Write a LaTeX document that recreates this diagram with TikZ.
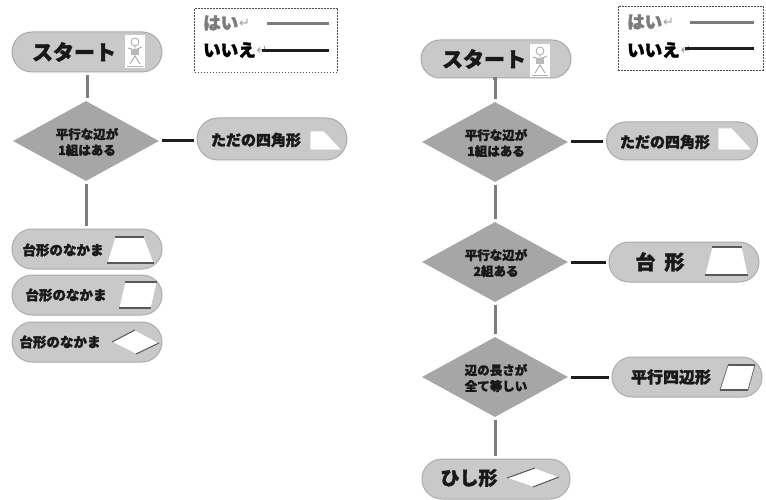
\documentclass[tikz,border=0pt]{standalone}
\usepackage{fontspec}
\setmainfont{Noto Sans CJK JP}[BoldFeatures={FakeBold=2}]
\newfontfamily\symfont{DejaVu Sans}
\usetikzlibrary{shapes.geometric,shapes.misc}
\definecolor{pillfill}{HTML}{C9C9C9}
\definecolor{pilledge}{HTML}{ABABAB}
\definecolor{dfill}{HTML}{A6A6A6}
\definecolor{yesgray}{HTML}{7C7C7C}
\definecolor{nodark}{HTML}{1E1E1E}
\tikzset{
  pill/.style={rounded rectangle, fill=pillfill, draw=pilledge, line width=1pt,
    minimum width=150pt, minimum height=40pt, inner sep=0pt},
  decision/.style={diamond, fill=dfill, inner sep=0pt, aspect=1.8,
    minimum width=146pt, minimum height=80pt},
  yesline/.style={draw=yesgray, line width=3pt, shorten <=3pt, shorten >=3pt},
  noline/.style={draw=nodark, line width=3pt, shorten <=3pt, shorten >=3pt},
  lbl/.style={text=black!90, inner sep=0pt, align=center},
  big/.style={lbl, font=\bfseries\fontsize{21}{23}\selectfont},
  mid/.style={lbl, font=\bfseries\fontsize{15}{17}\selectfont},
  small/.style={lbl, font=\bfseries\fontsize{12.5}{16}\selectfont},
  icon/.style={fill=white, draw=gray!45, line width=0.6pt},
  iconedge/.style={draw=black!65, line width=1.3pt},
  legendbox/.style={draw=black!70, dash pattern=on 1.6pt off 1.4pt, line width=0.9pt, inner sep=0pt},
  legyes/.style={lbl, text=yesgray, font=\bfseries\fontsize{17.5}{19}\selectfont},
  legno/.style={lbl, text=black, font=\bfseries\fontsize{17.5}{19}\selectfont},
  ret/.style={inner sep=0.5pt, text=gray!75, font=\symfont\fontsize{13}{13}\selectfont},
}
% little mascot drawn inside the start box
\newcommand{\mascot}[2]{%
  \fill[white] (#1-10,#2-16) rectangle (#1+10,#2+17);
  \draw[gray!70, line width=0.8pt] (#1,#2-9) circle (4);
  \draw[gray!70, line width=0.9pt] (#1,#2-5) -- (#1,#2+5)
    (#1-7,#2-3) -- (#1,#2-1) -- (#1+7,#2-4)
    (#1,#2+5) -- (#1-5,#2+13) (#1,#2+5) -- (#1+5,#2+13);
  \fill[gray!55] (#1-4,#2-2) rectangle (#1+4,#2+4);
  \draw[gray!60, line width=0.7pt] (#1-8,#2+15) -- (#1+8,#2+15);
}
\begin{document}
\begin{tikzpicture}[x=1pt,y=-1pt]
\useasboundingbox (0,0) rectangle (766,500);
\fill[white] (0,0) rectangle (766,500);

% ---------------- left chart ----------------
\node[legendbox, minimum width=143pt, minimum height=64pt] (Lleg) at (266,40) {};
\node[legyes, anchor=west] (Lyes) at (203,23) {はい};
\node[ret, anchor=west] (Lyesr) at (Lyes.east) {↵};
\coordinate (LyesA) at (267,24);
\coordinate (LyesB) at (329,24);
\draw[draw=yesgray, line width=3pt] (LyesA) -- (LyesB);
\node[legno, anchor=west] (Lno) at (203,50) {いいえ};
\node[ret, anchor=west] (Lnor) at (Lno.east) {↵};
\coordinate (LnoA) at (262,51);
\coordinate (LnoB) at (329,51);
\draw[draw=nodark, line width=3pt] (LnoA) -- (LnoB);

\node[pill] (Ls) at (87,52) {};
\node[big] (Lst) at (74,52) {スタート};
\mascot{135}{51}

\node[decision] (Ld1) at (86,141) {};
\node[small] at (87,142) {平行な辺が\\1組はある};

\node[pill, minimum height=42pt] (Lq) at (272,139) {};
\node[mid] at (256,140) {ただの四角形};
\filldraw[icon] (310,131) -- (324,131) -- (342,150) -- (310,150) -- cycle;

\node[pill] (Lt1) at (87,249) {};
\node[pill] (Lt2) at (87,295) {};
\node[pill] (Lt3) at (87,342) {};
\node[mid, font=\bfseries\fontsize{13.5}{15}\selectfont] at (63,250) {台形のなかま};
\node[mid, font=\bfseries\fontsize{13.5}{15}\selectfont] at (66,295) {台形のなかま};
\node[mid, font=\bfseries\fontsize{13.5}{15}\selectfont] at (60,342) {台形のなかま};
% trapezoid
\filldraw[icon] (107,263) -- (115,237) -- (144,237) -- (154,263) -- cycle;
\draw[iconedge] (115,237) -- (144,237) (107,263) -- (154,263);
% parallelogram
\filldraw[icon] (119,308) -- (125,282) -- (157,282) -- (151,308) -- cycle;
\draw[iconedge] (125,282) -- (157,282) (119,308) -- (151,308);
% rhombus
\filldraw[icon] (112,342) -- (135,330) -- (159,343) -- (136,354) -- cycle;
\draw[iconedge, line width=1pt] (135,330) -- (112,342) (159,343) -- (136,354);

\draw[yesline] (Ls.south) -- (Ls.south |- Ld1.north);
\draw[noline] (Ld1.east) -- (Ld1.east -| Lq.west);
\draw[yesline] (Ld1.south) -- (Ld1.south |- Lt1.north);

% ---------------- right chart ----------------
\node[legendbox, minimum width=145pt, minimum height=64pt] (Rleg) at (690.5,38) {};
\node[legyes, anchor=west] (Ryes) at (627,22) {はい};
\node[ret, anchor=west] (Ryesr) at (Ryes.east) {↵};
\coordinate (RyesA) at (690,23);
\coordinate (RyesB) at (754,23);
\draw[draw=yesgray, line width=3pt] (RyesA) -- (RyesB);
\node[legno, anchor=west] (Rno) at (627,50) {いいえ};
\node[ret, anchor=west] (Rnor) at (Rno.east) {↵};
\coordinate (RnoA) at (685,49);
\coordinate (RnoB) at (754,49);
\draw[draw=nodark, line width=3pt] (RnoA) -- (RnoB);

\node[pill, minimum height=38pt] (Rs) at (496,59) {};
\node[big] at (484,59) {スタート};
\mascot{540}{60}

\node[decision] (Rd1) at (495,142) {};
\node[small] at (496,143) {平行な辺が\\1組はある};
\node[pill, minimum height=38pt, minimum width=151pt] (Rq) at (682,141) {};
\node[mid] at (665,142) {ただの四角形};
\filldraw[icon] (718,128) -- (732,128) -- (752,150) -- (718,150) -- cycle;

\node[decision] (Rd2) at (495,262) {};
\node[small] at (496,263) {平行な辺が\\2組ある};
\node[pill] (Rt) at (684,262) {};
\node[big, font=\bfseries\fontsize{20}{22}\selectfont] at (660,262) {台\hspace{9pt}形};
\filldraw[icon] (705,275) -- (712,247) -- (742,247) -- (748,275) -- cycle;
\draw[iconedge] (712,247) -- (742,247) (705,275) -- (748,275);

\draw[yesline] (Rs.south) -- (Rs.south -| Rd1.north) -- (Rd1.north);
\draw[noline] (Rd1.east) -- (Rd1.east -| Rq.west);
\draw[yesline] (Rd1.south) -- (Rd2.north);
\draw[noline] (Rd2.east) -- (Rd2.east -| Rt.west);

\node[decision] (Rd3) at (495,377) {};
\node[small] at (496,378) {辺の長さが\\全て等しい};
\node[pill] (Rp) at (687,377) {};
\node[mid, font=\bfseries\fontsize{16}{18}\selectfont] at (671,377) {平行四辺形};
\filldraw[icon] (720,390) -- (728,365) -- (755,365) -- (748,390) -- cycle;
\draw[iconedge] (728,365) -- (755,365) (720,390) -- (748,390);
\draw[iconedge, line width=0.8pt, draw=black!55] (720,390) -- (728,365) (748,390) -- (755,365);

\draw[yesline] (Rd2.south) -- (Rd3.north);
\draw[noline] (Rd3.east) -- (Rd3.east -| Rp.west);

\node[pill, minimum width=148pt] (Rh) at (496,479) {};
\node[big, font=\bfseries\fontsize{19}{21}\selectfont] at (469,478) {ひし形};
\filldraw[icon] (507,478) -- (535,468) -- (559,477) -- (533,487) -- cycle;
\draw[iconedge, line width=1pt] (535,468) -- (507,478) (559,477) -- (533,487);

\draw[yesline] (Rd3.south) -- (Rd3.south |- Rh.north);
\end{tikzpicture}
\end{document}
